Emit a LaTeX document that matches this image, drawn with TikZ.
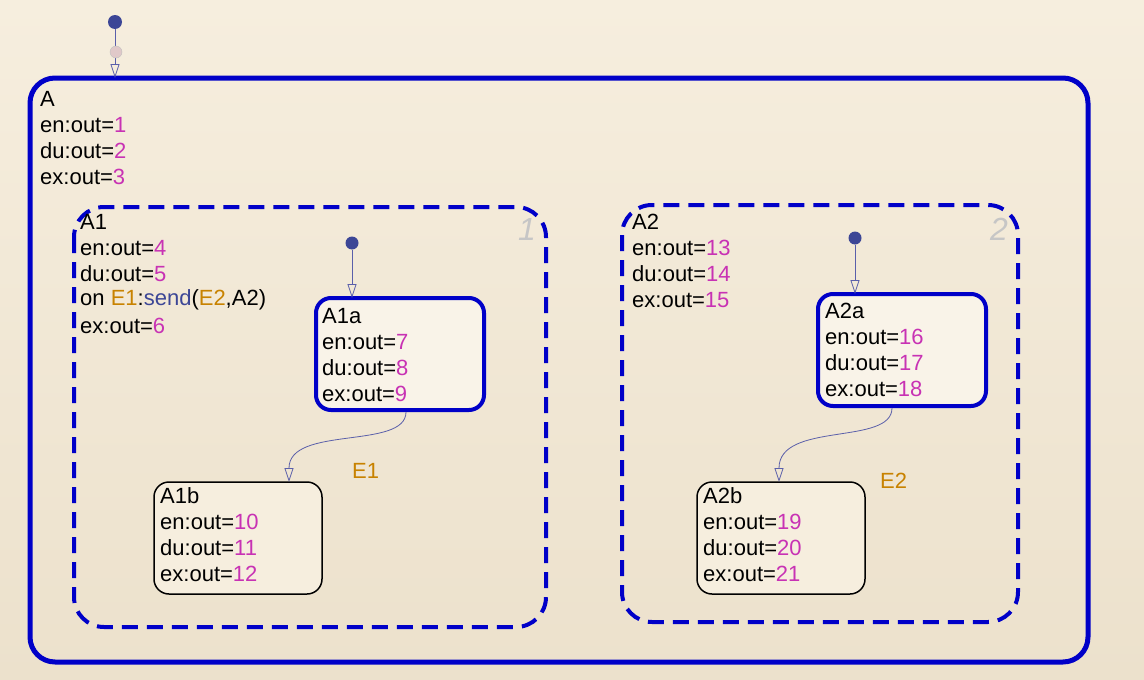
\documentclass[tikz,border=0pt]{standalone}
\usepackage{fontspec}
\setmainfont{Liberation Sans}
\usetikzlibrary{arrows.meta}
\definecolor{bg1}{RGB}{246,238,222}
\definecolor{bg2}{RGB}{236,225,204}
\definecolor{sblue}{RGB}{0,0,200}
\definecolor{mag}{RGB}{200,50,180}
\definecolor{org}{RGB}{200,130,0}
\definecolor{dk}{RGB}{60,70,150}
\definecolor{tr}{RGB}{90,95,170}
\begin{document}
\begin{tikzpicture}[x=1pt,y=-1pt,
  st/.style={draw=sblue,line width=5pt,rounded corners=25pt},
  par/.style={draw=sblue,line width=4pt,dash pattern=on 16pt off 9pt,rounded corners=30pt},
  sub/.style={draw=sblue,line width=4pt,rounded corners=15pt,fill=bg1!70},
  leaf/.style={draw=black,line width=1.5pt,rounded corners=15pt,fill=bg1},
  txt/.style={anchor=west,font=\fontsize{22}{24}\selectfont,inner sep=0pt},
  num/.style={font=\fontsize{32}{32}\selectfont\itshape,text=gray!45},
  dot/.style={circle,fill=dk,inner sep=0pt,minimum size=14pt},
  tra/.style={draw=tr,line width=0.8pt,-{Triangle[open,length=14pt,width=9pt]}}]
\useasboundingbox (0,0) rectangle (1144,680);
\shade[top color=bg1,bottom color=bg2] (0,0) rectangle (1144,680);
% A
\path[st] (30,78) rectangle (1088,662);
\node[txt] (At) at (40,99) {A};
\node[txt] at (40,125) {en:out=\textcolor{mag}{1}};
\node[txt] at (40,151) {du:out=\textcolor{mag}{2}};
\node[txt] at (40,177) {ex:out=\textcolor{mag}{3}};
\node[dot] (d0) at (115,22) {};
\coordinate (a0) at (115,78);
\draw[tra] (d0) -- (a0);
\node[circle,fill=pink!60!gray!60,draw=gray!50,inner sep=0pt,minimum size=12pt] (pk) at (116,52) {};
% A1
\path[par] (74,207) rectangle (546,627);
\node[num] (n1) at (527,229) {1};
\node[txt] at (80,222) {A1};
\node[txt] at (80,248) {en:out=\textcolor{mag}{4}};
\node[txt] at (80,274) {du:out=\textcolor{mag}{5}};
\node[txt] at (80,300) {on \textcolor{org}{E1}:\textcolor{dk}{send}(\textcolor{org}{E2},A2)};
\node[txt] at (80,326) {ex:out=\textcolor{mag}{6}};
\path[sub] (316,298) rectangle (484,410);
\coordinate (A1a) at (352,298);
\node[txt] at (322,316) {A1a};
\node[txt] at (322,342) {en:out=\textcolor{mag}{7}};
\node[txt] at (322,368) {du:out=\textcolor{mag}{8}};
\node[txt] at (322,394) {ex:out=\textcolor{mag}{9}};
\node[dot,minimum size=13pt] (d1) at (352,243) {};
\draw[tra] (d1) -- (A1a);
\path[leaf] (154,482) rectangle (322,594);
\coordinate (A1b) at (289,482);
\coordinate (A1aout) at (406,412);
\node[txt] at (160,496) {A1b};
\node[txt] at (160,522) {en:out=\textcolor{mag}{10}};
\node[txt] at (160,548) {du:out=\textcolor{mag}{11}};
\node[txt] at (160,574) {ex:out=\textcolor{mag}{12}};
\draw[tra] (A1aout) .. controls (406,450) and (289,425) .. (A1b);
\node[txt,text=org] (e1) at (352,471) {E1};
% A2
\path[par] (622,205) rectangle (1018,622);
\node[num] (n2) at (999,229) {2};
\node[txt] at (632,222) {A2};
\node[txt] at (632,248) {en:out=\textcolor{mag}{13}};
\node[txt] at (632,274) {du:out=\textcolor{mag}{14}};
\node[txt] at (632,300) {ex:out=\textcolor{mag}{15}};
\path[sub] (818,294) rectangle (986,406);
\coordinate (A2a) at (855,294);
\node[txt] at (825,311) {A2a};
\node[txt] at (825,337) {en:out=\textcolor{mag}{16}};
\node[txt] at (825,363) {du:out=\textcolor{mag}{17}};
\node[txt] at (825,389) {ex:out=\textcolor{mag}{18}};
\node[dot,minimum size=13pt] (d2) at (855,238) {};
\draw[tra] (d2) -- (A2a);
\path[leaf] (697,482) rectangle (865,594);
\coordinate (A2b) at (779,482);
\coordinate (A2aout) at (892,408);
\node[txt] at (703,496) {A2b};
\node[txt] at (703,522) {en:out=\textcolor{mag}{19}};
\node[txt] at (703,548) {du:out=\textcolor{mag}{20}};
\node[txt] at (703,574) {ex:out=\textcolor{mag}{21}};
\draw[tra] (A2aout) .. controls (892,446) and (779,421) .. (A2b);
\node[txt,text=org] (e2) at (880,481) {E2};
\end{tikzpicture}
\end{document}
